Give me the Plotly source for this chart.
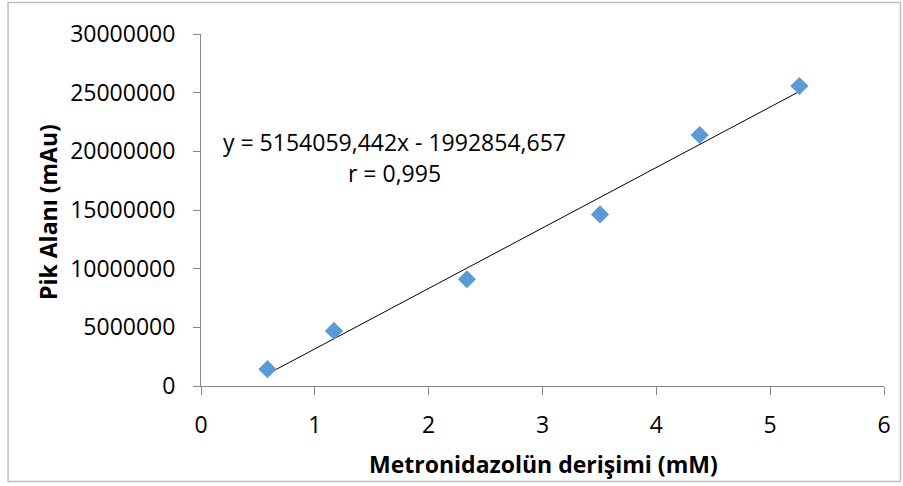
import plotly.graph_objects as go

# Data
conc_mM = [0.584, 1.168, 2.336, 3.505, 4.381, 5.257]
peak_area = [1430000, 4690000, 9100000, 14620000, 21390000, 25570000]
slope = 5154059.442
intercept = -1992854.657
eq_text = "y = 5154059,442x - 1992854,657"
r_text = "r = 0,995"
x_title = "Metronidazolün derişimi (mM)"
y_title = "Pik Alanı (mAu)"
x_ticks = [0, 1, 2, 3, 4, 5, 6]
y_ticks = [0, 5000000, 10000000, 15000000, 20000000, 25000000, 30000000]

W, H = 903, 486
L, R, T, B = 201, 17, 34, 100
pw, ph = W - L - R, H - T - B

def px2x(px):
    return (px - L) / pw

def py2y(py):
    return (H - B - py) / ph

FONT = "Open Sans"
FS = 23
axis_col = "#868686"

fig = go.Figure()
xmin, xmax = min(conc_mM), max(conc_mM)
fig.add_trace(go.Scatter(
    x=[xmin, xmax], y=[slope * xmin + intercept, slope * xmax + intercept],
    mode="lines", line=dict(color="black", width=1), showlegend=False, hoverinfo="skip"))
fig.add_trace(go.Scatter(
    x=conc_mM, y=peak_area, mode="markers",
    marker=dict(symbol="diamond", size=14, color="#5B9BD5", line=dict(width=0)),
    showlegend=False))

fig.update_layout(
    width=W, height=H,
    margin=dict(l=L, r=R, t=T, b=B, pad=0),
    paper_bgcolor="white", plot_bgcolor="white",
    font=dict(family=FONT, size=FS, color="black"),
    xaxis=dict(range=[0, 6], tickvals=x_ticks, ticktext=[str(v) for v in x_ticks],
               showgrid=False, zeroline=False, showline=True, linecolor=axis_col, linewidth=1,
               ticks="outside", ticklen=8, tickcolor=axis_col, ticklabelstandoff=10),
    yaxis=dict(range=[0, 30000000], tickvals=y_ticks, ticktext=[str(v) for v in y_ticks],
               showgrid=False, zeroline=False, showline=True, linecolor=axis_col, linewidth=1,
               ticks="outside", ticklen=7, tickcolor=axis_col, ticklabelstandoff=13),
)

# axis titles
fig.add_annotation(x=px2x(545), y=py2y(464), xref="paper", yref="paper", text=x_title,
                   showarrow=False, xanchor="center", yanchor="middle",
                   font=dict(size=FS, weight="bold"))
fig.add_annotation(x=px2x(47.5), y=py2y(212), xref="paper", yref="paper", text=y_title,
                   showarrow=False, xanchor="center", yanchor="middle", textangle=-90,
                   font=dict(size=FS, weight="bold"))

# trendline equation
fig.add_annotation(x=px2x(395), y=py2y(142), xref="paper", yref="paper", text=eq_text,
                   showarrow=False, xanchor="center", yanchor="middle", font=dict(size=FS))
fig.add_annotation(x=px2x(395), y=py2y(173), xref="paper", yref="paper", text=r_text,
                   showarrow=False, xanchor="center", yanchor="middle", font=dict(size=FS))

fig.add_shape(type="rect", xref="paper", yref="paper",
              x0=px2x(7.5), x1=px2x(902.5), y0=py2y(481.5), y1=py2y(2.5),
              line=dict(color="#BFBFBF", width=1.5), fillcolor="rgba(0,0,0,0)", layer="below")

fig.write_html("out.html", config={"displayModeBar": False},
               post_script="document.body.style.margin='0';document.body.style.overflow='hidden';")
